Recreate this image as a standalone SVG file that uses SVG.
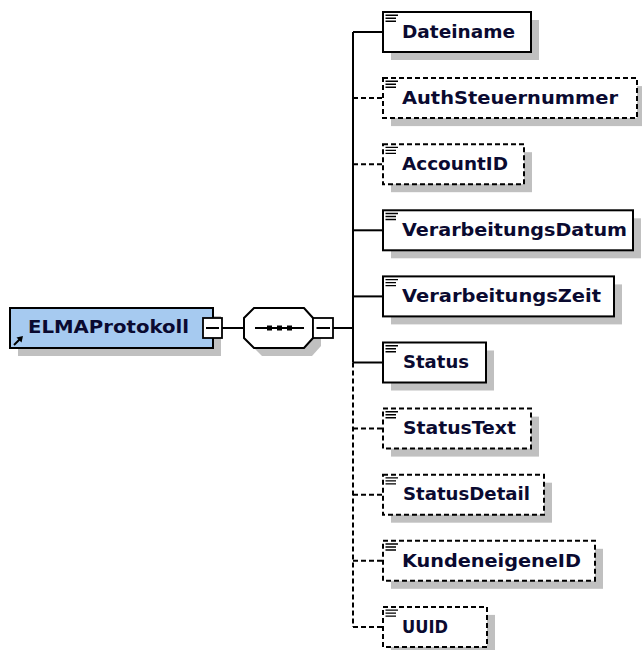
<svg xmlns="http://www.w3.org/2000/svg" width="642" height="650" viewBox="0 0 642 650">
<defs>
<style>
.shadow{fill:#c0c0c0;stroke:none}
.box{fill:#ffffff;stroke:#000000;stroke-width:2}
.opt{stroke-dasharray:5 3}
.root{fill:#a6caf0;stroke:#000000;stroke-width:2}
.ln{fill:none;stroke:#000000;stroke-width:2}
.dash{stroke-dasharray:5 3}
.lbl{font-family:"DejaVu Sans","Liberation Sans",sans-serif;font-weight:bold;font-size:18px;fill:#0a0a30}
.icon{stroke:#000000;stroke-width:1.4;fill:none}
.minus{fill:#ffffff;stroke:#000000;stroke-width:1.8}
</style>
<g id="doc-icon">
<path class="icon" d="M2.5 3.2H15M2.5 6.2H13M2.5 9.2H13"/>
</g>
</defs>
<rect width="642" height="650" fill="#ffffff"/>

<g id="connectors">
<path class="ln" d="M222 328H244"/>
<path class="ln" d="M333 328H353"/>
<path class="ln" d="M353 32V362.5"/>
<path class="ln dash" d="M353 362.5V627"/>
<path class="ln" d="M353 32H383"/>
<path class="ln dash" d="M353 98.1H383"/>
<path class="ln dash" d="M353 164.2H383"/>
<path class="ln" d="M353 230.3H383"/>
<path class="ln" d="M353 296.4H383"/>
<path class="ln" d="M353 362.5H383"/>
<path class="ln dash" d="M353 428.6H383"/>
<path class="ln dash" d="M353 494.7H383"/>
<path class="ln dash" d="M353 560.8H383"/>
<path class="ln dash" d="M353 626.9H383"/>
</g>

<g id="ELMAProtokoll">
<rect class="shadow" x="18" y="316" width="203" height="40"/>
<rect class="root" x="10" y="308" width="203" height="40"/>
<text class="lbl" x="28" y="332.5" textLength="161" lengthAdjust="spacingAndGlyphs">ELMAProtokoll</text>
<path d="M14 345L19.5 339.5" stroke="#000" stroke-width="2"/>
<path d="M23 336L16.5 337.5L21.5 342.5Z" fill="#000"/>
<rect class="minus" x="203" y="318" width="19" height="20"/>
<path class="ln" d="M206 328H219"/>
</g>

<g id="sequence">
<path class="shadow" d="M262 316H312L321 326V346L312 356H262L252 346V326Z"/>
<path d="M254 308H304L313 318V338L304 348H254L244 338V318Z" fill="#ffffff" stroke="#000" stroke-width="2"/>
<path class="ln" d="M255 328H304"/>
<rect x="267" y="325.5" width="5" height="5" fill="#000"/>
<rect x="277" y="325.5" width="5" height="5" fill="#000"/>
<rect x="287" y="325.5" width="5" height="5" fill="#000"/>
<rect class="minus" x="313" y="318" width="20" height="20"/>
<path class="ln" d="M316.5 328H330"/>
</g>

<g id="Dateiname">
<rect class="shadow" x="391" y="20" width="148" height="40"/>
<rect class="box" x="383" y="12" width="148" height="40"/>
<use href="#doc-icon" x="383" y="12"/>
<text class="lbl" x="402" y="37.5" textLength="113" lengthAdjust="spacingAndGlyphs">Dateiname</text>
</g>

<g id="AuthSteuernummer">
<rect class="shadow" x="391" y="86.1" width="254" height="40"/>
<rect class="box opt" x="383" y="78.1" width="254" height="40"/>
<use href="#doc-icon" x="383" y="78.1"/>
<text class="lbl" x="402" y="103.6" textLength="216" lengthAdjust="spacingAndGlyphs">AuthSteuernummer</text>
</g>

<g id="AccountID">
<rect class="shadow" x="391" y="152.2" width="141" height="40"/>
<rect class="box opt" x="383" y="144.2" width="141" height="40"/>
<use href="#doc-icon" x="383" y="144.2"/>
<text class="lbl" x="402" y="169.7" textLength="106" lengthAdjust="spacingAndGlyphs">AccountID</text>
</g>

<g id="VerarbeitungsDatum">
<rect class="shadow" x="391" y="218.3" width="250" height="40"/>
<rect class="box" x="383" y="210.3" width="250" height="40"/>
<use href="#doc-icon" x="383" y="210.3"/>
<text class="lbl" x="402" y="236" textLength="225" lengthAdjust="spacingAndGlyphs">VerarbeitungsDatum</text>
</g>

<g id="VerarbeitungsZeit">
<rect class="shadow" x="391" y="284.4" width="231" height="40"/>
<rect class="box" x="383" y="276.4" width="231" height="40"/>
<use href="#doc-icon" x="383" y="276.4"/>
<text class="lbl" x="402" y="302.1" textLength="199" lengthAdjust="spacingAndGlyphs">VerarbeitungsZeit</text>
</g>

<g id="Status">
<rect class="shadow" x="391" y="350.5" width="103" height="40"/>
<rect class="box" x="383" y="342.5" width="103" height="40"/>
<use href="#doc-icon" x="383" y="342.5"/>
<text class="lbl" x="403" y="368.2" textLength="66" lengthAdjust="spacingAndGlyphs">Status</text>
</g>

<g id="StatusText">
<rect class="shadow" x="391" y="416.6" width="148" height="40"/>
<rect class="box opt" x="383" y="408.6" width="148" height="40"/>
<use href="#doc-icon" x="383" y="408.6"/>
<text class="lbl" x="403" y="434.3" textLength="113" lengthAdjust="spacingAndGlyphs">StatusText</text>
</g>

<g id="StatusDetail">
<rect class="shadow" x="391" y="482.7" width="161" height="40"/>
<rect class="box opt" x="383" y="474.7" width="161" height="40"/>
<use href="#doc-icon" x="383" y="474.7"/>
<text class="lbl" x="403" y="500.4" textLength="127" lengthAdjust="spacingAndGlyphs">StatusDetail</text>
</g>

<g id="KundeneigeneID">
<rect class="shadow" x="391" y="548.8" width="212" height="40"/>
<rect class="box opt" x="383" y="540.8" width="212" height="40"/>
<use href="#doc-icon" x="383" y="540.8"/>
<text class="lbl" x="402" y="566.5" textLength="179" lengthAdjust="spacingAndGlyphs">KundeneigeneID</text>
</g>

<g id="UUID">
<rect class="shadow" x="391" y="614.9" width="104" height="40"/>
<rect class="box opt" x="383" y="606.9" width="104" height="40"/>
<use href="#doc-icon" x="383" y="606.9"/>
<text class="lbl" x="402" y="632.6" textLength="46" lengthAdjust="spacingAndGlyphs">UUID</text>
</g>
</svg>
